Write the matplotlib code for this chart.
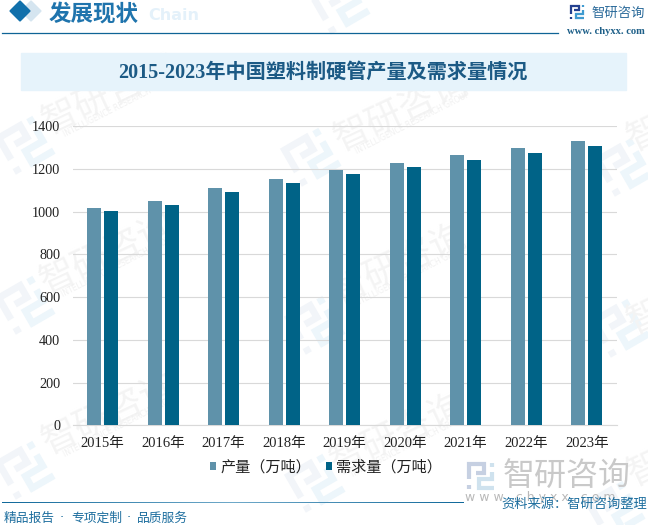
import matplotlib
matplotlib.use("Agg")
import matplotlib.pyplot as plt
import matplotlib.transforms as mtrans
from matplotlib.patches import Polygon, Rectangle
import numpy as np


YEARS = ["2015年", "2016年", "2017年", "2018年", "2019年", "2020年", "2021年", "2022年", "2023年"]
OUTPUT = [1018, 1050, 1111, 1153, 1196, 1229, 1266, 1299, 1332]
DEMAND = [1003, 1032, 1093, 1135, 1177, 1210, 1243, 1276, 1308]
YTICKS = [0, 200, 400, 600, 800, 1000, 1200, 1400]

TITLE = "2015-2023年中国塑料制硬管产量及需求量情况"
SERIES_NAMES = ["产量（万吨）", "需求量（万吨）"]

W, H = 648, 525
SERIF_CJK = ["Liberation Serif", "Noto Sans CJK SC"]
SANS_CJK = ["Noto Sans CJK SC", "DejaVu Sans"]

# logo strokes in a unit box, y pointing down
LOGO_DARK = [
    [(0.08, 0.62), (0.08, 0.08), (0.62, 0.08), (0.62, 0.38), (0.32, 0.38)],
    [(0.08, 0.82), (0.08, 0.96)],
]
LOGO_LIGHT = [
    [(0.88, 0.03), (0.88, 0.18)],
    [(0.88, 0.34), (0.88, 0.62), (0.44, 0.62), (0.44, 0.92), (0.98, 0.92)],
]


def _logo(bg, x, y, size, dark, light, angle=0, zorder=1):
    lw = size * 0.15 * 0.72
    tr = (mtrans.Affine2D().translate(-0.5, -0.5).scale(size).rotate_deg(angle)
          .translate(x, y) + bg.transData)
    for strokes, color in ((LOGO_DARK, dark), (LOGO_LIGHT, light)):
        for stroke in strokes:
            pts = np.array(stroke)
            bg.plot(pts[:, 0], pts[:, 1], color=color, lw=lw, transform=tr,
                    solid_capstyle="butt", solid_joinstyle="miter", zorder=zorder)


def _watermark(bg):
    for x, y in [(25, 145), (311, 157), (624, 167), (25, 305), (315, 325),
                 (620, 328), (25, 470), (315, 483), (615, 510), (340, 5)]:
        _logo(bg, x, y, 46, "#f2f5f9", "#edf6fb", angle=-30)
    for x, y in [(110, 95), (402, 112), (108, 255), (400, 265), (110, 415), (398, 435)]:
        bg.text(x, y, "智研咨询", fontsize=26, color="#f4f4f4", rotation=25,
                family=SANS_CJK, ha="center", va="center", rotation_mode="anchor", zorder=1)
        bg.text(x + 11, y + 11, "INTELLIGENCE RESEARCH GROUP", fontsize=5.5, color="#f1f1f1",
                rotation=27, family="DejaVu Sans", ha="center", va="center",
                rotation_mode="anchor", zorder=1)
    # clipped by the right edge, as in the original
    for x, y in [(645, 135), (645, 318), (645, 470)]:
        bg.text(x, y, "智", fontsize=26, color="#f4f4f4", rotation=25,
                family=SANS_CJK, ha="center", va="center", rotation_mode="anchor", zorder=1)


def _header(bg):
    bg.add_patch(Polygon([(31, 1), (41, 11), (31, 21), (21, 11)], color="#d5e5f0", zorder=2))
    bg.add_patch(Polygon([(20, 1), (30, 11), (20, 21), (10, 11)], color="#1170ab", zorder=3))
    bg.text(49, 14, "发展现状", fontsize=16.2, fontweight="bold", color="#1f74ad",
            family=SANS_CJK, va="center", zorder=3)
    bg.text(148, 16, "Chain", fontsize=11.5, fontweight="bold", color="#e4f1fa",
            family="DejaVu Sans", va="center", zorder=2)
    bg.plot([2, 558], [32.5, 32.5], color="#0f6496", lw=0.9, zorder=3)

    _logo(bg, 577, 12, 15, "#23408f", "#3f9bd0", zorder=3)
    bg.text(592, 13, "智研咨询", fontsize=9.6, color="#2a6a9a", family=SANS_CJK,
            va="center", zorder=3)
    bg.text(567, 32, "www. chyxx. com", fontsize=7.6, color="#1d5f88",
            family="Liberation Serif", fontweight="bold", va="center", zorder=3)

    bg.add_patch(Rectangle((21, 53), 605, 37, color="#e6f3fb", zorder=2))
    bg.text(323, 73, TITLE, fontsize=14.5, fontweight="bold", color="#1c5a85",
            family=SERIF_CJK, ha="center", va="center", zorder=3)


def _footer(bg):
    # rule fades in the middle
    ramp = np.abs(np.linspace(-1, 1, 256)).reshape(1, -1)
    cmap = matplotlib.colors.LinearSegmentedColormap.from_list("rule", ["#6fa9c9", "#11699b"])
    bg.imshow(ramp, extent=(2, 464, 503, 502), cmap=cmap, aspect="auto", zorder=3)
    bg.set_xlim(0, W)
    bg.set_ylim(H, 0)

    for x, part in [(4, "精品报告"), (71, "专项定制"), (137, "品质服务")]:
        bg.text(x, 518, part, fontsize=9.2, color="#1f6f9f", family=SANS_CJK,
                va="center", zorder=3)
    for x in (62, 129):
        bg.text(x, 518, "·", fontsize=9.2, color="#1f6f9f", family="DejaVu Sans",
                ha="center", va="center", zorder=3)

    _logo(bg, 481, 476, 28, "#c6d0e2", "#cfe2ee", zorder=3)
    bg.text(503, 476, "智研咨询", fontsize=23, color="#c9c9c9", family=SANS_CJK,
            va="center", zorder=3)
    bg.text(465, 497, "w w w . c h y x x . c o m", fontsize=9, color="#b9b9b9",
            family="DejaVu Sans", va="center", zorder=3)
    bg.text(501, 504, "资料来源：智研咨询整理", fontsize=9.5, color="#1f6f9f",
            family=SANS_CJK, va="center", zorder=4)


def run():
    fig = plt.figure(figsize=(W / 100, H / 100), dpi=100, facecolor="white")

    bg = fig.add_axes([0, 0, 1, 1], zorder=0)
    bg.set_xlim(0, W)
    bg.set_ylim(H, 0)
    bg.axis("off")
    _watermark(bg)
    _header(bg)
    _footer(bg)

    left, right, top, bottom = 72.5, 617, 126.3, 425.3
    ax = fig.add_axes([left / W, 1 - bottom / H, (right - left) / W, (bottom - top) / H], zorder=1)
    ax.patch.set_alpha(0)

    x = np.arange(len(YEARS))
    b1 = ax.bar(x - 0.14, OUTPUT, width=0.23, color="#5f92aa", zorder=3)
    b2 = ax.bar(x + 0.14, DEMAND, width=0.23, color="#006387", zorder=3)

    ax.set_xlim(-0.5, len(YEARS) - 0.5)
    ax.set_ylim(0, 1400)
    ax.set_yticks(YTICKS)
    ax.set_xticks(x, labels=YEARS)
    ax.grid(axis="y", color="#d9d9d9", linewidth=0.8, zorder=1)
    ax.set_axisbelow(True)
    for side in ("top", "left", "right"):
        ax.spines[side].set_visible(False)
    ax.spines["bottom"].set_color("#d9d9d9")
    ax.spines["bottom"].set_linewidth(0.8)
    ax.tick_params(axis="x", length=0, pad=8.5, labelsize=10.5, labelcolor="#222222")
    ax.tick_params(axis="y", length=0, pad=9, labelsize=10.3, labelcolor="#222222")
    for label in ax.get_xticklabels() + ax.get_yticklabels():
        label.set_fontfamily(SERIF_CJK)

    fig.legend([b1, b2], SERIES_NAMES, loc="center", bbox_to_anchor=(326 / W, 1 - 467 / H),
               ncol=2, frameon=False, prop={"family": SANS_CJK, "size": 10.9},
               handlelength=0.42, handleheight=0.42, handletextpad=0.25,
               columnspacing=1.0, labelcolor="#222222")

    fig.savefig("out.png", dpi=100)


run()
